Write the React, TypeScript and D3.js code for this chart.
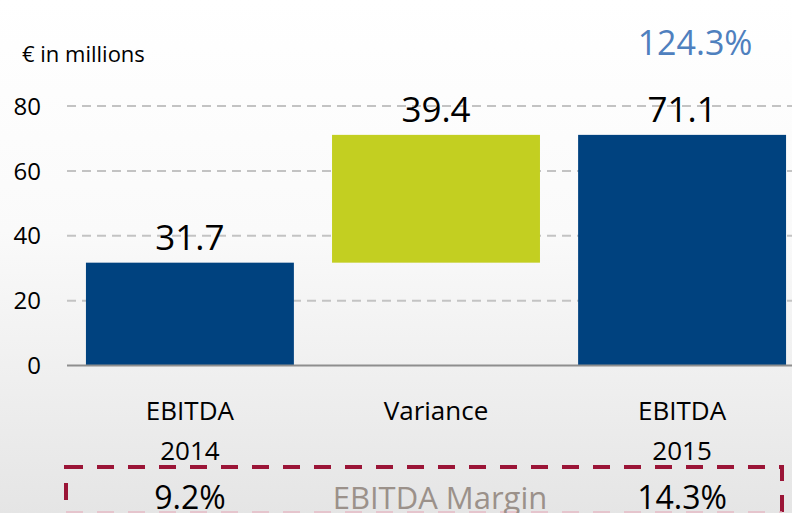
import React from "react";
import * as d3 from "d3";

const categories = ["EBITDA 2014", "Variance", "EBITDA 2015"];
const categoryLines = [["EBITDA", "2014"], ["Variance"], ["EBITDA", "2015"]];
const barStart = [0, 31.7, 0];
const barEnd = [31.7, 71.1, 71.1];
const valueLabels = ["31.7", "39.4", "71.1"];
const barKinds = ["total", "delta", "total"];
const marginLabels = ["9.2%", "EBITDA Margin", "14.3%"];
const growthLabel = "124.3%";
const yTicks = [0, 20, 40, 60, 80];
const unitLabel = "€ in millions";

const W = 792;
const H = 513;
const FONT = "'Open Sans', 'Noto Sans', sans-serif";

export default function App() {
  const x = d3
    .scaleBand<string>()
    .domain(categories)
    .range([67, 805])
    .paddingInner(0.155)
    .paddingOuter(0.077);
  const y = d3.scaleLinear().domain([0, 80]).range([365.5, 106]);
  const bw = x.bandwidth();
  const cx = (c: string) => (x(c) as number) + bw / 2;

  return (
    <svg
      width={W}
      height={H}
      style={{ position: "absolute", left: 0, top: 0, display: "block" }}
      fontFamily={FONT}
    >
      <defs>
        <linearGradient id="bg" x1="0" y1="0" x2="0" y2="1">
          <stop offset="0" stopColor="#ffffff" />
          <stop offset="0.45" stopColor="#fafafa" />
          <stop offset="1" stopColor="#e5e5e5" />
        </linearGradient>
      </defs>
      <rect x={0} y={0} width={W} height={H} fill="url(#bg)" />

      {/* unit label */}
      <text x={22} y={62} fontSize={22} fill="#000">
        {unitLabel}
      </text>

      {/* gridlines */}
      {yTicks
        .filter((t) => t !== 0)
        .map((t) => (
          <line
            key={"g" + t}
            x1={67}
            x2={W}
            y1={y(t)}
            y2={y(t)}
            stroke="#c3c3c3"
            strokeWidth={2}
            strokeDasharray="9 6"
          />
        ))}

      {/* y tick labels */}
      {yTicks.map((t) => (
        <text
          key={"t" + t}
          x={41}
          y={y(t)}
          dy="0.36em"
          textAnchor="end"
          fontSize={24}
          fill="#000"
        >
          {t}
        </text>
      ))}

      {/* bars */}
      {categories.map((c, i) => (
        <rect
          key={"b" + c}
          x={x(c)}
          y={y(barEnd[i])}
          width={bw}
          height={y(barStart[i]) - y(barEnd[i])}
          fill={barKinds[i] === "delta" ? "#c3cf21" : "#00427f"}
        />
      ))}

      {/* axis line */}
      <line x1={67} x2={W} y1={y(0)} y2={y(0)} stroke="#8e8e8e" strokeWidth={2} />

      {/* value labels */}
      {categories.map((c, i) => (
        <text
          key={"v" + c}
          x={cx(c)}
          y={y(barEnd[i]) - 13}
          textAnchor="middle"
          fontSize={35}
          fill="#000"
        >
          {valueLabels[i]}
        </text>
      ))}

      {/* growth label */}
      <text
        x={cx(categories[2]) + 13}
        y={55}
        textAnchor="middle"
        fontSize={34}
        fill="#4f80be"
      >
        {growthLabel}
      </text>

      {/* category labels */}
      {categories.map((c, i) =>
        categoryLines[i].map((line, j) => (
          <text
            key={"c" + c + j}
            x={cx(c)}
            y={420 + j * 40}
            textAnchor="middle"
            fontSize={26}
            fill="#000"
          >
            {line}
          </text>
        ))
      )}

      {/* margin box */}
      <rect
        x={66}
        y={467}
        width={716}
        height={60}
        fill="none"
        stroke="#9b1537"
        strokeWidth={4}
        strokeDasharray="17 14"
      />
      <line
        x1={66}
        x2={782}
        y1={512}
        y2={512}
        stroke="#e6b8c3"
        strokeWidth={2}
        strokeDasharray="17 14"
        opacity={0.7}
      />

      {/* margin labels */}
      {categories.map((c, i) => (
        <text
          key={"m" + c}
          x={cx(c) + (i === 1 ? 4 : 0)}
          y={509}
          textAnchor="middle"
          fontSize={i === 1 ? 31 : 32}
          fill={i === 1 ? "#9b918a" : "#000"}
        >
          {marginLabels[i]}
        </text>
      ))}
    </svg>
  );
}
